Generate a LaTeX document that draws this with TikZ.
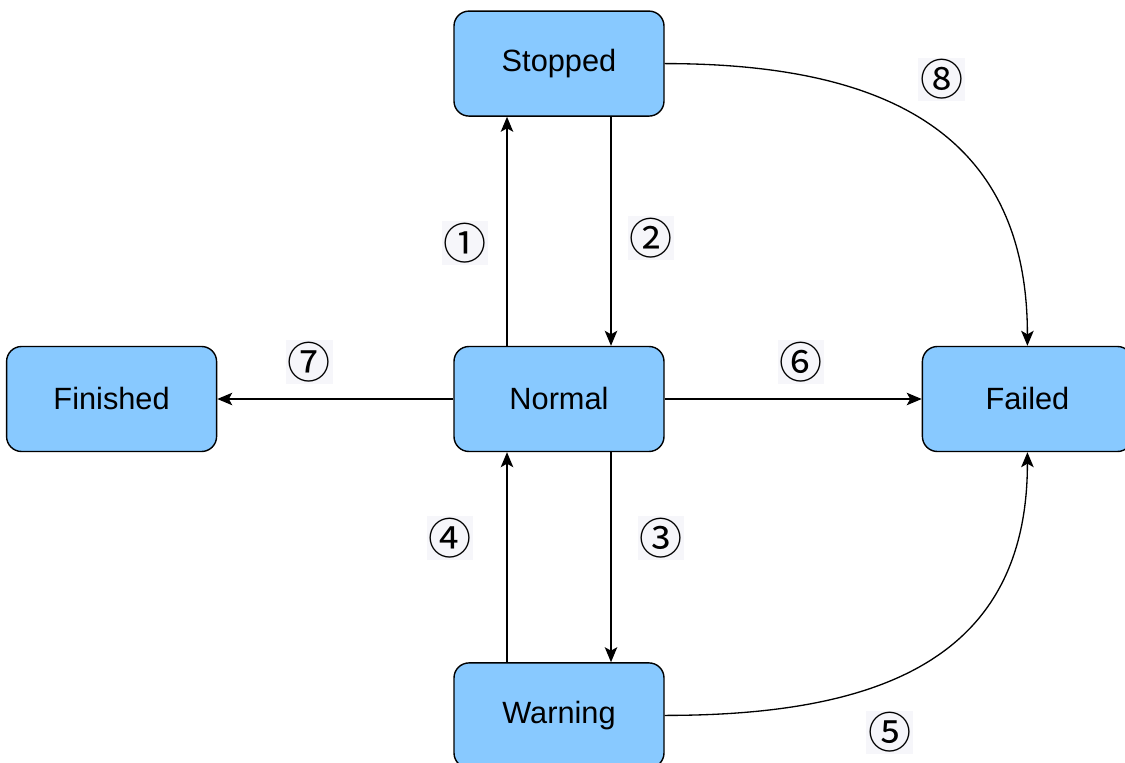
\documentclass[tikz,border=0pt]{standalone}
\usepackage{fontspec}
\setmainfont{Liberation Sans}
\newfontfamily\circfont{Noto Sans CJK SC}
\usetikzlibrary{positioning}
\usetikzlibrary{arrows.meta}
\definecolor{stateblue}{RGB}{136,201,255}
\definecolor{labelgray}{RGB}{246,246,250}

\begin{document}
\begin{tikzpicture}[
        box/.style={draw=black, rounded corners=0.3cm, fill=stateblue,
                    line width=0.8pt, minimum width=4.2cm, minimum height=2.1cm,
                    align=center, font=\fontsize{17.5}{20}\selectfont},
        arrow/.style={-{Stealth[length=0.3cm, width=0.25cm, inset=0.07cm]}, line width=0.75pt, draw=black},
        num/.style={fill=labelgray, inner sep=1pt, font=\circfont\fontsize{24.5}{26}\selectfont}
    ]
        \useasboundingbox (-11.18,7.98) rectangle (11.32,-7.26);
        \node[box] (normal) {Normal};
        \node[box, above=4.58cm of normal] (stopped) {Stopped};
        \node[box, left=4.72cm of normal] (finished) {Finished};
        \node[box, right=5.14cm of normal] (failed) {Failed};
        \node[box, below=4.2cm of normal] (warning) {Warning};

        \draw[arrow] ([xshift=-1.04cm]normal.north) -- node[num, pos=0.45, xshift=-0.84cm] (n1) {①} ([xshift=-1.04cm]stopped.south);
        \draw[arrow] ([xshift=1.04cm]stopped.south) -- node[num, pos=0.53, xshift=0.8cm] (n2) {②} ([xshift=1.04cm]normal.north);
        \draw[arrow] ([xshift=1.04cm]normal.south) -- node[num, pos=0.41, xshift=1.0cm] (n3) {③} ([xshift=1.04cm]warning.north);
        \draw[arrow] ([xshift=-1.04cm]warning.north) -- node[num, pos=0.59, xshift=-1.14cm] (n4) {④} ([xshift=-1.04cm]normal.south);
        \draw[arrow] (warning.east) to[out=0, in=-90, looseness=1.2] (failed.south);
        \draw[arrow] (normal.east) -- node[num, pos=0.53, yshift=0.74cm] (n6) {⑥} (failed.west);
        \draw[arrow] (normal.west) -- node[num, pos=0.61, yshift=0.74cm] (n7) {⑦} (finished.east);
        \draw[arrow] (stopped.east) to[out=0, in=90, looseness=1.2] (failed.north);

        \node[num] (n5) at ([xshift=4.5cm, yshift=-0.34cm]warning.east) {⑤};
        \node[num] (n8) at ([xshift=5.54cm, yshift=-0.32cm]stopped.east) {⑧};
    \end{tikzpicture}
\end{document}
